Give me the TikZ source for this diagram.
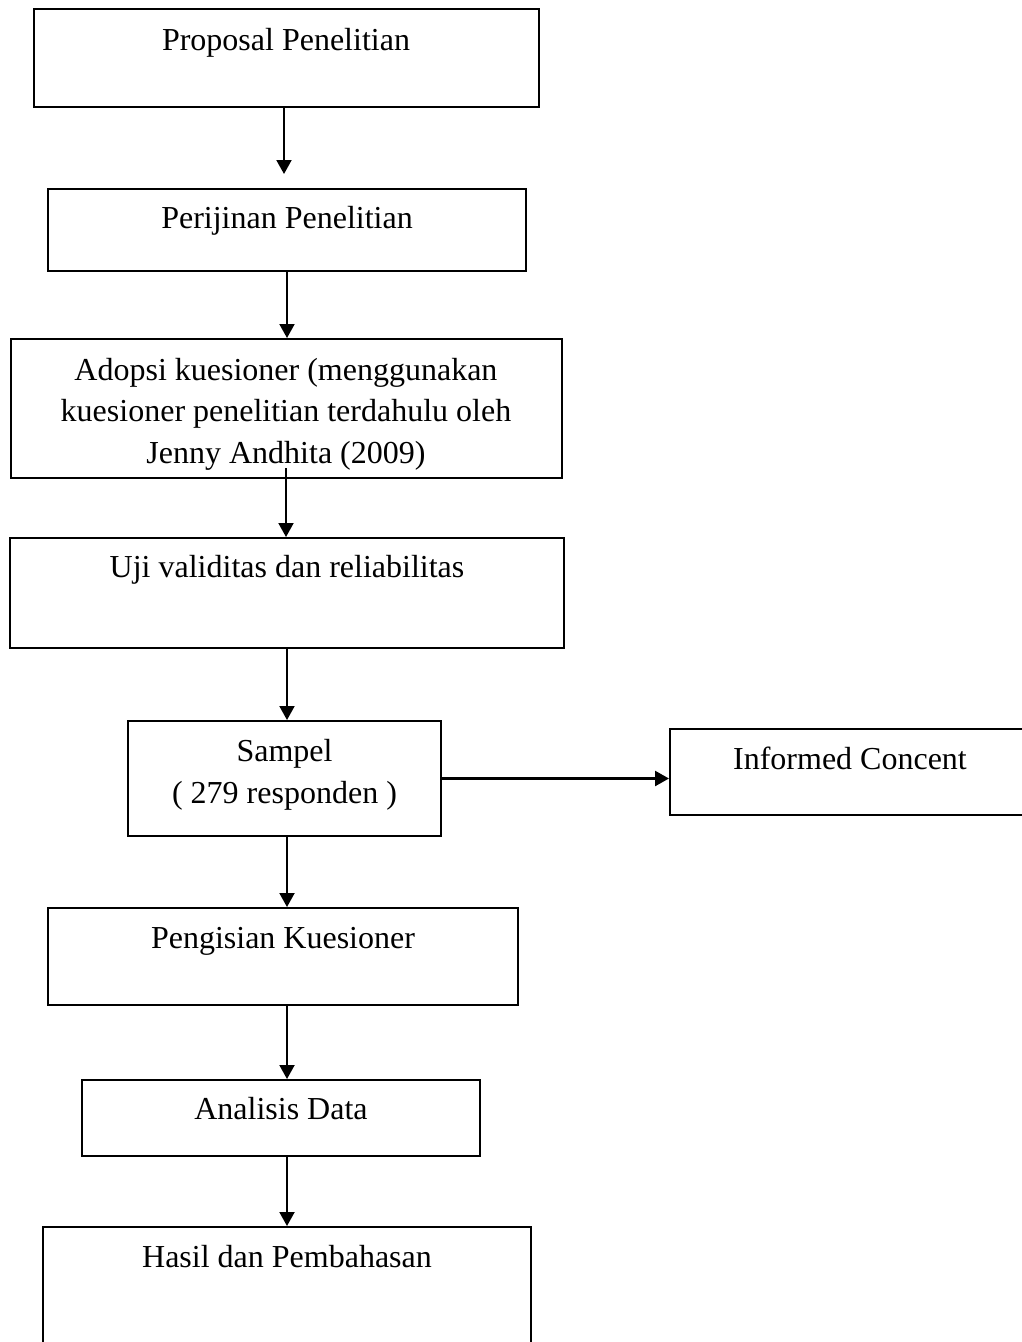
\documentclass[tikz,border=0pt]{standalone}
\usepackage{fontspec}
\setmainfont{Liberation Serif}
\usetikzlibrary{calc, arrows.meta, positioning}

\begin{document}
\begin{tikzpicture}[x=1pt, y=-1pt,
  box/.style={draw, line width=2pt, inner sep=0pt, font=\fontsize{32}{41.5}\selectfont, align=center},
  arr/.style={-{Triangle[length=14pt, width=15pt]}, line width=2pt}]
  \useasboundingbox (0,0) rectangle (1021,1342);

  \node[box, anchor=base, minimum width=505pt, text height=41pt, text depth=57pt] (prop) at (286,50) {Proposal Penelitian};
  \node[box, anchor=base, minimum width=478pt, text height=39pt, text depth=43pt] (perij) at (287,228) {Perijinan Penelitian};
  \node[box, anchor=base, minimum width=551pt, text height=124pt, text depth=15pt] (adop) at (286,463) {Adopsi kuesioner (menggunakan\\kuesioner penelitian terdahulu oleh\\Jenny Andhita (2009)};
  \node[box, anchor=base, minimum width=554pt, text height=39pt, text depth=71pt] (uji) at (287,577) {Uji validitas dan reliabilitas};
  \node[box, anchor=base, minimum width=313pt, text height=82pt, text depth=33pt] (samp) at (284.5,803) {Sampel\\( 279 responden )};
  \node[box, anchor=base, minimum width=360pt, text height=40pt, text depth=46pt] (inf) at (850,769) {Informed Concent};
  \node[box, anchor=base, minimum width=470pt, text height=40pt, text depth=57pt] (peng) at (283,948) {Pengisian Kuesioner};
  \node[box, anchor=base, minimum width=398pt, text height=39pt, text depth=37pt] (anal) at (281,1119) {Analisis Data};
  \node[box, anchor=base, minimum width=488pt, text height=40pt, text depth=100pt] (hasil) at (287,1267) {Hasil dan Pembahasan};

  \draw[arr, shorten >=14pt] (prop.south -| 284,0) -- (perij.north -| 284,0);
  \draw[arr] (perij.south) -- (adop.north -| perij.south);
  \draw[arr] ([yshift=11pt]adop.south) -- (uji.north -| adop.south);
  \draw[arr] (uji.south) -- (samp.north -| uji.south);
  \draw[arr, line width=2.5pt] (samp.east) -- (samp.east -| inf.west);
  \draw[arr] (samp.south -| uji.south) -- (peng.north -| uji.south);
  \draw[arr] (peng.south -| uji.south) -- (anal.north -| uji.south);
  \draw[arr] (anal.south -| uji.south) -- (hasil.north -| uji.south);
\end{tikzpicture}
\end{document}
